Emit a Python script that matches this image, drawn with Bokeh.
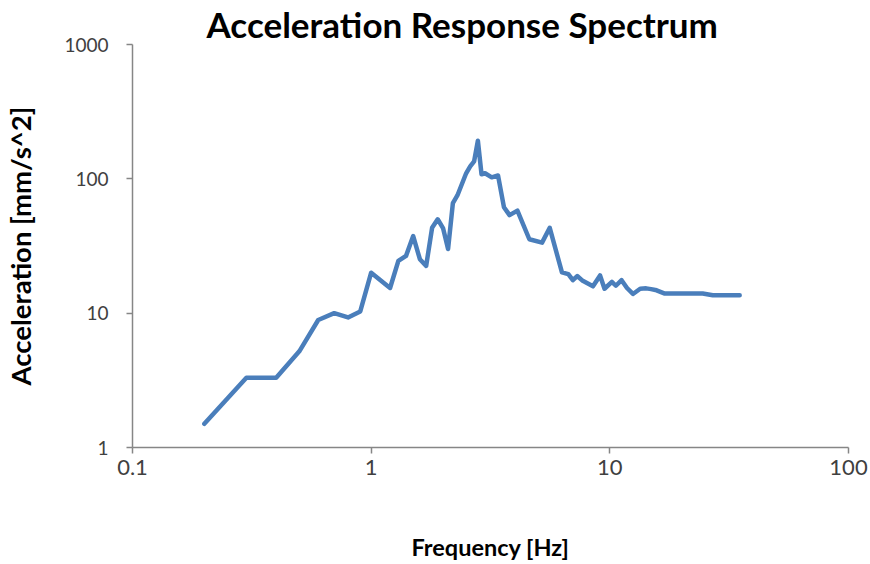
from bokeh.plotting import figure
from bokeh.models import FixedTicker, CustomJSTickFormatter
from bokeh.embed import file_html
from bokeh.resources import INLINE

# Data
freq = [0.2, 0.3, 0.4, 0.5, 0.6, 0.7, 0.8, 0.9, 1.0,
        1.2, 1.3, 1.4, 1.5, 1.6, 1.7, 1.8, 1.9, 2.0,
        2.1, 2.2, 2.3, 2.5, 2.6, 2.7, 2.8, 2.9, 3.0,
        3.2, 3.4, 3.6, 3.8, 4.1, 4.6, 5.2, 5.6,
        6.3, 6.7, 7.0, 7.3, 7.7, 8.5, 9.1, 9.5,
        10.2, 10.6, 11.2, 11.8, 12.5, 13.4, 14.2, 14.9, 15.7,
        17.0, 24.5, 27.0, 35.0]
accel = [1.5, 3.3, 3.3, 5.2, 8.9, 10.0, 9.3, 10.3, 20.0,
         15.4, 24.5, 26.7, 37.5, 25.2, 22.5, 43.2, 50.0, 43.0,
         30.0, 66.0, 75.5, 110, 124, 135, 192, 108, 110,
         102.6, 106, 61.5, 53.7, 58, 35.5, 33.5, 43.2,
         20.1, 19.5, 17.6, 18.9, 17.4, 15.85, 19.1, 15.2,
         17.1, 16.0, 17.6, 15.4, 13.9, 15.2, 15.3, 15.1, 14.8,
         14.0, 14.0, 13.6, 13.6]

x_ticks = [0.1, 1, 10, 100]
y_ticks = [1, 10, 100, 1000]

title_text = "Acceleration Response  Spectrum"
x_label = "Frequency [Hz]"
y_label = "Acceleration [mm/s^2]"

FONT = "Lato"

p = figure(width=870, height=564, x_axis_type="log", y_axis_type="log",
           x_range=(0.1, 100), y_range=(1, 1000),
           output_backend="svg", toolbar_location=None,
           min_border_left=132, min_border_right=22,
           min_border_top=42, min_border_bottom=117)

p.title.text = title_text
p.title.text_font = FONT
p.title.text_font_size = "35px"
p.title.text_font_style = "bold"
p.title.text_color = "#000000"
p.title.align = "left"
p.title.offset = 74
p.title.standoff = 0

p.outline_line_color = None
p.grid.visible = False
p.background_fill_color = "white"
p.border_fill_color = "white"

fmt = CustomJSTickFormatter(code="return tick.toString();")

for ax in (p.xaxis[0], p.yaxis[0]):
    ax.axis_line_color = "#868686"
    ax.axis_line_width = 1.5
    ax.major_tick_line_color = "#868686"
    ax.major_tick_line_width = 1.5
    ax.major_tick_in = 0
    ax.major_tick_out = 6
    ax.minor_tick_line_color = None
    ax.major_label_text_font = FONT
    ax.major_label_text_color = "#404040"
    ax.axis_label_text_font = FONT
    ax.axis_label_text_font_style = "bold"
    ax.axis_label_text_color = "#000000"
    ax.formatter = fmt

p.xaxis.ticker = FixedTicker(ticks=x_ticks)
p.yaxis.ticker = FixedTicker(ticks=y_ticks)

p.xaxis.axis_label = x_label
p.yaxis.axis_label = y_label
p.xaxis.major_label_text_font_size = "22px"
p.yaxis.major_label_text_font_size = "19px"
p.xaxis.axis_label_text_font_size = "23.5px"
p.yaxis.axis_label_text_font_size = "27.5px"
p.xaxis.major_label_standoff = 6
p.yaxis.major_label_standoff = 18
p.xaxis.axis_label_standoff = 55
p.yaxis.axis_label_standoff = 24

p.line(freq, accel, line_color="#4a7ebb", line_width=4.5, line_join="round",
       line_cap="round")

open("out.html", "w").write(file_html(p, INLINE))
